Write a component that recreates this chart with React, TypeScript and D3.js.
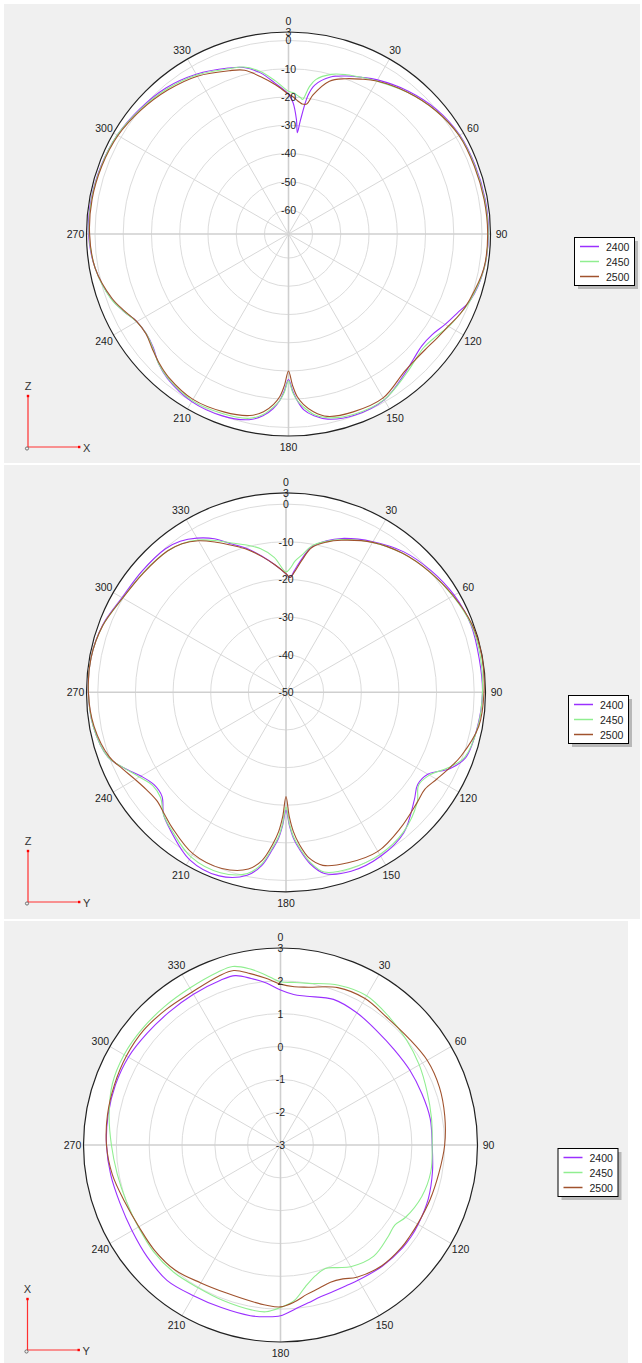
import * as d3 from "d3";

// antenna patterns, gain in dBi
const seriesNames = ["2400", "2450", "2500"];
const seriesColors = ["#9b30ff", "#90ee90", "#a0522d"];
const angleTicks = [0, 30, 60, 90, 120, 150, 180, 210, 240, 270, 300, 330];

// XZ cut
const xzTicks = [3, 0, -10, -20, -30, -40, -50, -60];
const xzAngles = [0, 2, 4, 5, 6, 8, 10, 15, 20, 25, 30, 40, 50, 60, 70, 80, 90, 100, 110, 115, 120, 125, 130, 135, 140, 150, 160, 168, 172, 175, 177, 178.5, 180, 181.5, 183, 185, 188, 192, 200, 210, 220, 225, 230, 235, 240, 245, 250, 260, 270, 280, 290, 300, 310, 320, 330, 340, 345, 350, 355];
const xz2400 = [-19, -22, -28, -32.5, -28, -19, -15, -11, -9, -7.3, -5.5, -2.5, 0, 1.5, 1.9, 2.2, 2.3, 1.8, 0, -2.5, -4.5, -6.4, -6.9, -5.9, -4.3, -0.7, -0.2, -1.5, -3.5, -6, -9.5, -13, -17, -13, -9.5, -6.5, -3.5, -1.3, 0, 0, -1.8, -3.5, -6, -7, -6.5, -4, -1.7, 1, 2.3, 2.4, 2.1, 1.5, 0.3, -1, -3.2, -6, -7.5, -10.5, -15];
const xz2450 = [-18, -18.5, -19.5, -20, -20.6, -16, -13, -10, -8.5, -7.3, -6, -3, -0.5, 1.3, 1.7, 2, 2.2, 1.8, 0, -1.5, -3, -5, -6, -5.2, -3.8, -0.8, -0.6, -2, -4, -7, -9.5, -12.5, -16.5, -12.5, -9.5, -7, -4, -1.8, -0.8, -0.4, -2, -3.5, -5.8, -7, -6.4, -4, -1.6, 1, 2.1, 2.3, 2, 1.5, 0, -1.5, -3.5, -6.3, -7.3, -10, -14];
const xz2500 = [-19, -20, -21.3, -21.8, -22.2, -22, -18.5, -12.5, -10, -8, -6, -3, -0.5, 1.2, 1.5, 1.8, 2.0, 1.7, -0.3, -1.5, -3.2, -4.3, -5.1, -5.3, -4.8, -1.5, -1.5, -2.5, -5, -8, -11, -15, -20, -15, -11, -8, -5, -2.8, -1.5, -0.9, -2.4, -3.8, -5.5, -6.9, -6.5, -4.3, -2, 1, 1.9, 2.1, 1.8, 1.2, -0.3, -2, -4, -7, -8.5, -12, -15.5];

// YZ cut
const yzTicks = [3, 0, -10, -20, -30, -40, -50];
const yzAngles = [0, 2, 4, 7, 10, 15, 20, 30, 40, 50, 60, 70, 80, 90, 100, 110, 115, 120, 125, 130, 140, 150, 160, 168, 172, 175, 177, 178.5, 180, 181.5, 183, 185, 188, 192, 200, 210, 220, 225, 230, 235, 240, 245, 250, 260, 270, 280, 290, 300, 310, 320, 325, 330, 335, 340, 345, 350, 355];
const yz2400 = [-18.5, -19.5, -17.5, -14, -10.8, -8.3, -6.5, -3.8, -1.3, 0.3, 1.6, 2.3, 2.1, 2.2, 1.7, 0.8, -2, -6.5, -7.3, -5.5, -1.3, 0.3, 0.6, -0.8, -4, -8, -11, -14.5, -18.7, -14.5, -11, -8, -3.5, -0.3, 1.9, 1.3, -2.2, -4, -7, -7.2, -5.5, -2.5, 0.3, 2, 2.5, 2.6, 1.9, 0.3, 0, -0.2, -1, -2.7, -5, -8.1, -10.5, -13.3, -16];
const yz2450 = [-18, -17, -15, -13, -10.5, -8.5, -6.8, -4, -1.8, -0.2, 1.2, 2.4, 2.5, 2.2, 1.8, 0.5, -2.5, -6, -7, -4.5, -1.5, -0.2, -0.2, -1.2, -4.5, -8.5, -11.5, -15, -19.5, -15, -11.5, -8.5, -4, -0.8, 1, 0.5, -2.5, -4, -6.5, -6.8, -5, -2.5, 0.3, 2, 2.5, 2.6, 1.8, 0.1, -0.5, -1, -1.8, -3.3, -5.5, -7.8, -9.5, -11.3, -14];
const yz2500 = [-18.5, -19.5, -18, -14.5, -11, -8.7, -7, -4, -1.8, -0.2, 1.3, 2.6, 2.9, 2.6, 2.0, -0.5, -2.2, -3.8, -5, -4.5, -2.8, -1.2, -1.8, -3, -5.5, -9.5, -13, -17, -22.3, -17, -13, -9.5, -5, -2, -0.2, -0.5, -3, -4.3, -5.2, -4.8, -3.7, -2, 0, 1.8, 2.5, 2.6, 1.8, 0.1, -0.6, -1, -1.8, -3.5, -6, -8.5, -10.8, -13.4, -16];

// XY cut
const xyTicks = [3, 2, 1, 0, -1, -2, -3];
const xyAngles = [0, 5, 10, 20, 30, 40, 50, 60, 70, 80, 90, 100, 110, 120, 125, 130, 140, 150, 155, 160, 165, 170, 175, 180, 185, 190, 200, 210, 220, 230, 240, 250, 260, 270, 280, 290, 300, 310, 320, 330, 340, 345, 350, 355];
const xy2400 = [1.72, 1.6, 1.6, 1.72, 1.65, 1.55, 1.52, 1.55, 1.58, 1.63, 1.62, 1.7, 1.79, 1.84, 1.86, 1.86, 1.82, 1.75, 1.73, 1.74, 1.78, 1.88, 2.02, 2.2, 2.25, 2.28, 2.27, 2.3, 2.38, 2.3, 2.22, 2.2, 2.25, 2.3, 2.33, 2.35, 2.35, 2.3, 2.28, 2.3, 2.34, 2.34, 2.15, 1.95];
const xy2450 = [1.97, 1.97, 2.0, 2.18, 2.25, 2.12, 2.0, 1.88, 1.75, 1.67, 1.62, 1.65, 1.58, 1.4, 1.25, 1.3, 1.42, 1.28, 1.12, 1.0, 1.12, 1.38, 1.76, 1.95, 2.1, 2.1, 2.05, 2.02, 2.06, 2.05, 2.0, 2.0, 2.05, 2.15, 2.3, 2.45, 2.5, 2.5, 2.5, 2.52, 2.6, 2.63, 2.45, 2.2];
const xy2500 = [1.9, 1.84, 1.88, 2.1, 2.15, 2.06, 2.08, 2.16, 2.15, 2.08, 2.0, 1.9, 1.85, 1.82, 1.82, 1.83, 1.8, 1.65, 1.5, 1.45, 1.52, 1.62, 1.8, 1.93, 1.9, 1.85, 1.8, 1.85, 1.98, 2.0, 1.98, 2.05, 2.2, 2.3, 2.35, 2.38, 2.42, 2.44, 2.4, 2.38, 2.48, 2.5, 2.3, 2.1];

const FONT = "'Liberation Sans', Arial, sans-serif";

type PanelProps = {
  x: number; y: number; w: number; h: number;
  cx: number; cy: number; radius: number; minValue: number;
  ticks: number[]; angles: number[]; series: number[][];
  legendX: number; legendY: number;
  axisX: number; axisY: number; upLabel: string; rightLabel: string;
};

function PolarPanel(p: PanelProps) {
  const r = d3.scaleLinear().domain([p.minValue, 3]).range([0, p.radius]);
  const line = d3
    .lineRadial<[number, number]>()
    .angle((d) => (d[0] * Math.PI) / 180)
    .radius((d) => r(d[1]))
    .curve(d3.curveCatmullRomClosed.alpha(0.5));
  const rings = p.ticks.filter((t) => t !== 3 && t !== p.minValue);
  const pt = (deg: number, rad: number) => {
    const a = (deg * Math.PI) / 180;
    return [p.cx + rad * Math.sin(a), p.cy - rad * Math.cos(a)];
  };

  return (
    <g>
      <rect x={p.x} y={p.y} width={p.w} height={p.h} fill="#f0f0f0" />
      <circle cx={p.cx} cy={p.cy} r={p.radius} fill="#fff" />
      {rings.map((t) => (
        <circle key={t} cx={p.cx} cy={p.cy} r={r(t)} fill="none" stroke="#dcdcdc" strokeWidth={1} />
      ))}
      {angleTicks.map((a) => {
        const [x2, y2] = pt(a, p.radius);
        const main = a % 90 === 0;
        return (
          <line key={a} x1={p.cx} y1={p.cy} x2={x2} y2={y2}
            stroke={main ? "#cfcfcf" : "#d8d8d8"} strokeWidth={main ? 1.6 : 1} />
        );
      })}
      <circle cx={p.cx} cy={p.cy} r={p.radius} fill="none" stroke="#222" strokeWidth={1.2} />
      <g transform={`translate(${p.cx},${p.cy})`}>
        {p.series.map((vals, i) => (
          <path key={i}
            d={line(p.angles.map((a, j) => [a, vals[j]] as [number, number])) || ""}
            fill="none" stroke={seriesColors[i]} strokeWidth={1.1} />
        ))}
      </g>
      {p.ticks.map((t) => (
        <text key={"t" + t} x={p.cx} y={p.cy - r(t)} textAnchor="middle" dominantBaseline="central"
          fontSize={10.5} fontFamily={FONT} fill="#222">{t}</text>
      ))}
      {angleTicks.map((a) => {
        const [tx, ty] = pt(a, p.radius + 11);
        return (
          <text key={"a" + a} x={tx} y={ty} textAnchor="middle" dominantBaseline="central"
            fontSize={10.5} fontFamily={FONT} fill="#222">{a}</text>
        );
      })}
      {/* legend */}
      <rect x={p.legendX + 4} y={p.legendY + 4} width={60} height={48} fill="#b8b8b8" />
      <rect x={p.legendX + 0.5} y={p.legendY + 0.5} width={60} height={48} fill="#fff" stroke="#000" strokeWidth={1} />
      {seriesNames.map((s, i) => (
        <g key={s}>
          <line x1={p.legendX + 6} x2={p.legendX + 25} y1={p.legendY + 9.5 + i * 15} y2={p.legendY + 9.5 + i * 15}
            stroke={seriesColors[i]} strokeWidth={1.5} />
          <text x={p.legendX + 32} y={p.legendY + 9.5 + i * 15} dominantBaseline="central"
            fontSize={10.5} fontFamily={FONT} fill="#222">{s}</text>
        </g>
      ))}
      {/* axis indicator */}
      <line x1={p.axisX} y1={p.axisY} x2={p.axisX} y2={p.axisY - 51} stroke="#ff3030" strokeWidth={1.2} />
      <line x1={p.axisX} y1={p.axisY} x2={p.axisX + 51} y2={p.axisY} stroke="#ff3030" strokeWidth={1.2} />
      <rect x={p.axisX - 1.2} y={p.axisY - 52.2} width={2.4} height={2.4} fill="#ff0000" />
      <rect x={p.axisX + 50} y={p.axisY - 1.2} width={2.4} height={2.4} fill="#ff0000" />
      <circle cx={p.axisX - 1} cy={p.axisY + 1.5} r={1.6} fill="none" stroke="#555" strokeWidth={0.8} />
      <text x={p.axisX} y={p.axisY - 61} textAnchor="middle" dominantBaseline="central"
        fontSize={11} fontFamily={FONT} fill="#333">{p.upLabel}</text>
      <text x={p.axisX + 55} y={p.axisY + 1} dominantBaseline="central"
        fontSize={11} fontFamily={FONT} fill="#333">{p.rightLabel}</text>
    </g>
  );
}

export default function App() {
  return (
    <div style={{ position: "absolute", left: 0, top: 0 }}>
      <svg width={642} height={1363} style={{ display: "block", background: "#fff" }}>
        <PolarPanel x={4} y={4} w={636} h={459} cx={288.5} cy={234} radius={202} minValue={-68.5}
          ticks={xzTicks} angles={xzAngles} series={[xz2400, xz2450, xz2500]}
          legendX={574} legendY={237} axisX={28} axisY={447} upLabel="Z" rightLabel="X" />
        <PolarPanel x={4} y={465} w={636} h={454} cx={286} cy={692.3} radius={199.5} minValue={-50}
          ticks={yzTicks} angles={yzAngles} series={[yz2400, yz2450, yz2500]}
          legendX={568} legendY={695} axisX={28} axisY={902} upLabel="Z" rightLabel="Y" />
        <PolarPanel x={4} y={921} w={624} h={442} cx={280.5} cy={1145} radius={197} minValue={-3}
          ticks={xyTicks} angles={xyAngles} series={[xy2400, xy2450, xy2500]}
          legendX={557.5} legendY={1148} axisX={27.5} axisY={1350} upLabel="X" rightLabel="Y" />
      </svg>
    </div>
  );
}
